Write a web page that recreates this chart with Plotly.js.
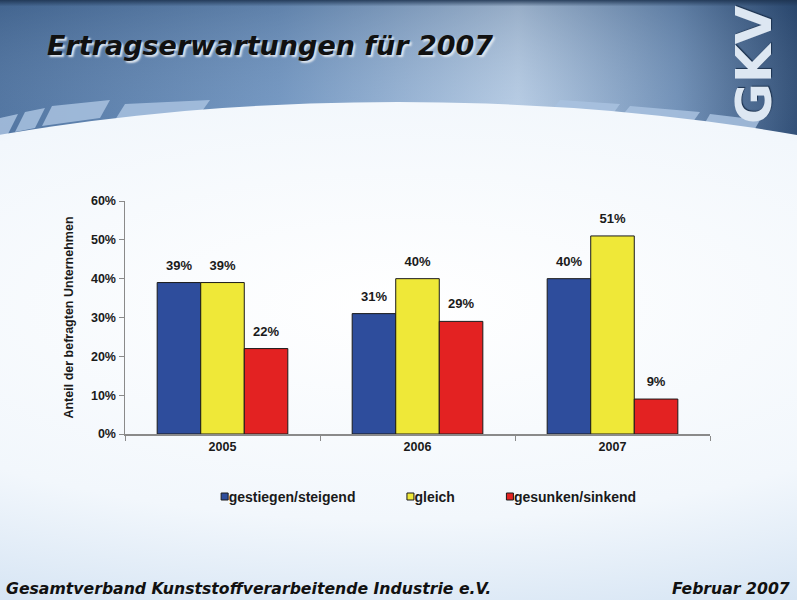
<!DOCTYPE html>
<html>
<head>
<meta charset="utf-8">
<script src="https://cdn.plot.ly/plotly-3.0.1.min.js"></script>
<style>
html,body{margin:0;padding:0;width:797px;height:600px;overflow:hidden;}
#bg{position:absolute;left:0;top:0;width:797px;height:600px;}
#chart{position:absolute;left:0;top:0;width:797px;height:600px;}
#chart .legendpoints path{d:path("M26.5,3.5H19.5V-3.5H26.5Z");}
</style>
</head>
<body>
<svg id="bg" width="797" height="600" viewBox="0 0 797 600">
  <defs>
    <linearGradient id="topg" x1="0" y1="0" x2="1" y2="0">
      <stop offset="0" stop-color="#4d72a0"/>
      <stop offset="0.35" stop-color="#7196c2"/>
      <stop offset="0.65" stop-color="#b7cde6"/>
      <stop offset="0.85" stop-color="#6f90b8"/>
      <stop offset="1" stop-color="#2c4b74"/>
    </linearGradient>
    <linearGradient id="topv" x1="0" y1="0" x2="0" y2="1">
      <stop offset="0" stop-color="#1d3350" stop-opacity="0.9"/>
      <stop offset="0.04" stop-color="#1d3350" stop-opacity="0.2"/>
      <stop offset="1" stop-color="#ffffff" stop-opacity="0"/>
    </linearGradient>
    <radialGradient id="mid" cx="0.5" cy="0.32" r="0.75">
      <stop offset="0" stop-color="#ffffff"/>
      <stop offset="0.45" stop-color="#f2f7fc"/>
      <stop offset="0.8" stop-color="#c9dcf0"/>
      <stop offset="1" stop-color="#a9c6e6"/>
    </radialGradient>
  </defs>
  <rect x="0" y="0" width="797" height="600" fill="url(#topg)"/>
  <rect x="0" y="0" width="797" height="160" fill="url(#topv)"/>
  <g fill="#a9c2e0" opacity="0.85">
    <polygon points="0,118 18,114 8,134 0,136"/>
    <polygon points="25,112 45,108 35,128 15,132"/>
    <polygon points="52,106 110,100 100,118 42,126"/>
    <polygon points="125,104 210,100 200,114 115,120"/>
    <polygon points="560,100 620,104 610,118 550,112"/>
    <polygon points="630,106 700,112 690,126 620,118"/>
    <polygon points="710,114 760,120 752,134 702,128"/>
  </g>
  <ellipse cx="398" cy="420" rx="900" ry="318" fill="url(#mid)"/>
</svg>
<div id="chart"></div>
<script>
var categories = ["2005", "2006", "2007"];
var seriesNames = ["gestiegen/steigend", "gleich", "gesunken/sinkend"];
var steigend = [39, 31, 40];
var gleich = [39, 40, 51];
var sinkend = [22, 29, 9];
var yTickVals = [0, 10, 20, 30, 40, 50, 60];
var yTickText = yTickVals.map(function (t) { return t + "%"; });

var colors = ["#2e4d9c", "#efe838", "#e32222"];
var values = [steigend, gleich, sinkend];
var arial = "Liberation Sans, Arial, sans-serif";

var traces = [];
values.forEach(function (v, i) {
  traces.push({
    type: "bar",
    name: seriesNames[i],
    x: categories,
    y: v,
    offsetgroup: "g" + i,
    marker: {color: colors[i], line: {color: "#1a1a1a", width: 1}},
    hoverinfo: "none"
  });
});
values.forEach(function (v, i) {
  traces.push({
    type: "scatter",
    mode: "markers+text",
    x: categories,
    y: v,
    offsetgroup: "g" + i,
    text: v.map(function (d) { return d + "%"; }),
    textposition: "top center",
    marker: {size: 14, opacity: 0},
    cliponaxis: false,
    showlegend: false,
    textfont: {family: arial, size: 13, color: "#1a1a1a", weight: "bold"},
    hoverinfo: "none"
  });
});

var boldFont = {family: arial, size: 12.5, color: "#1a1a1a", weight: "bold"};

var layout = {
  width: 797,
  height: 600,
  paper_bgcolor: "rgba(0,0,0,0)",
  plot_bgcolor: "rgba(0,0,0,0)",
  margin: {l: 125, r: 87, t: 201, b: 166},
  barmode: "group",
  bargap: 0.33,
  bargroupgap: 0,
  scattermode: "group",
  scattergap: 0.33,
  showlegend: true,
  legend: {
    orientation: "h",
    x: 0.484, xanchor: "center",
    y: -0.27, yanchor: "middle",
    font: {family: arial, size: 14, color: "#1a1a1a", weight: "bold"},
    bgcolor: "rgba(0,0,0,0)",
    traceorder: "normal",
    itemwidth: 44
  },
  xaxis: {
    type: "category",
    showline: true,
    linecolor: "#8a8a8a",
    linewidth: 1.5,
    ticks: "outside",
    tickson: "boundaries",
    ticklen: 5,
    tickcolor: "#8a8a8a",
    tickfont: boldFont,
    showgrid: false,
    zeroline: false,
    fixedrange: true
  },
  yaxis: {
    range: [0, 60],
    tickmode: "array",
    tickvals: yTickVals,
    ticktext: yTickText,
    showline: true,
    linecolor: "#8a8a8a",
    linewidth: 1.5,
    ticks: "outside",
    ticklen: 5,
    tickcolor: "#8a8a8a",
    tickfont: boldFont,
    showgrid: false,
    zeroline: false,
    fixedrange: true,
    title: {text: "Anteil der befragten Unternehmen", font: {family: arial, size: 12.5, color: "#1a1a1a", weight: "bold"}, standoff: 14}
  },
  annotations: [
    {
      text: "Ertragserwartungen für 2007",
      xref: "paper", yref: "paper",
      x: 0, y: 1,
      xanchor: "left", yanchor: "middle",
      xshift: -80, yshift: 156,
      showarrow: false,
      font: {family: "DejaVu Sans, Verdana, sans-serif", size: 27, color: "#111111", weight: "bold", style: "italic", shadow: "2px 2px 2px #dfe6ee"}
    },
    {
      text: "Gesamtverband Kunststoffverarbeitende Industrie e.V.",
      xref: "paper", yref: "paper",
      x: 0, y: 0,
      xanchor: "left", yanchor: "middle",
      xshift: -121, yshift: -154,
      showarrow: false,
      font: {family: "DejaVu Sans, Verdana, sans-serif", size: 15.7, color: "#111111", weight: "bold", style: "italic"}
    },
    {
      text: "Februar 2007",
      xref: "paper", yref: "paper",
      x: 1, y: 0,
      xanchor: "right", yanchor: "middle",
      xshift: 82, yshift: -154,
      showarrow: false,
      font: {family: "DejaVu Sans, Verdana, sans-serif", size: 15.7, color: "#111111", weight: "bold", style: "italic"}
    },
    {
      text: "GKV",
      xref: "paper", yref: "paper",
      x: 1, y: 1,
      xanchor: "center", yanchor: "middle",
      xshift: 44, yshift: 136,
      textangle: -90,
      showarrow: false,
      font: {family: "DejaVu Sans, Verdana, sans-serif", size: 50, color: "#dde7f2", weight: "bold", shadow: "1px 1px 1px #1d3350"}
    }
  ]
};

Plotly.newPlot("chart", traces, layout, {displayModeBar: false, staticPlot: true});
</script>
</body>
</html>
